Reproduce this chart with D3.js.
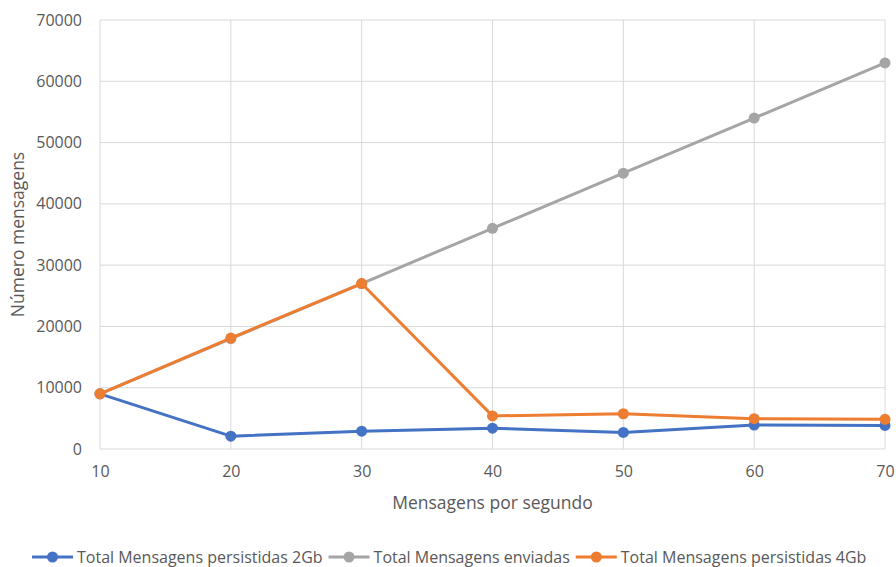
<!DOCTYPE html>
<html>
<head>
<meta charset="utf-8">
<script src="https://cdn.jsdelivr.net/npm/d3@7"></script>
<style>
  body { margin: 0; background: #fff; }
  svg text { font-family: "Open Sans", sans-serif; fill: #595959; }
</style>
</head>
<body>
<svg id="chart"></svg>
<script>
// data
var rates = [10, 20, 30, 40, 50, 60, 70];
var persist2Gb = [9000, 2100, 2900, 3400, 2700, 3900, 3850];
var sent = [9000, 18000, 27000, 36000, 45000, 54000, 63000];
var persist4Gb = [9000, 18100, 27000, 5400, 5750, 4950, 4850];
var yTicks = [0, 10000, 20000, 30000, 40000, 50000, 60000, 70000];

var seriesNames = ["Total Mensagens persistidas 2Gb", "Total Mensagens enviadas", "Total Mensagens persistidas 4Gb"];
var seriesColors = ["#4472C4", "#A5A5A5", "#ED7D31"];
var seriesValues = [persist2Gb, sent, persist4Gb];

var width = 896, height = 567;
var plotLeft = 100, plotRight = 885, plotTop = 20, plotBottom = 449;

var svg = d3.select("#chart")
  .attr("width", width)
  .attr("height", height);

var x = d3.scaleLinear().domain([10, 70]).range([plotLeft, plotRight]);
var y = d3.scaleLinear().domain([0, 70000]).range([plotBottom, plotTop]);

// grid lines
svg.append("g")
  .selectAll("line")
  .data(yTicks)
  .enter().append("line")
  .attr("x1", plotLeft).attr("x2", plotRight)
  .attr("y1", function(d){ return y(d); })
  .attr("y2", function(d){ return y(d); })
  .attr("stroke", "#d9d9d9")
  .attr("stroke-width", 1);

svg.append("g")
  .selectAll("line")
  .data(rates)
  .enter().append("line")
  .attr("y1", plotTop).attr("y2", plotBottom)
  .attr("x1", function(d){ return x(d); })
  .attr("x2", function(d){ return x(d); })
  .attr("stroke", "#d9d9d9")
  .attr("stroke-width", 1);

// axes (labels only)
var yAxis = svg.append("g")
  .attr("transform", "translate(" + (plotLeft - 18) + ",0)")
  .call(d3.axisLeft(y).tickValues(yTicks).tickSize(0).tickFormat(d3.format("d")));
var xAxis = svg.append("g")
  .attr("transform", "translate(0," + (plotBottom + 14) + ")")
  .call(d3.axisBottom(x).tickValues(rates).tickSize(0).tickFormat(d3.format("d")));
[yAxis, xAxis].forEach(function(a){
  a.select(".domain").remove();
  a.selectAll("text")
    .style("font-size", "16px")
    .style("font-family", "'Open Sans', sans-serif")
    .attr("fill", "#595959");
});
yAxis.selectAll("text").attr("x", 0);

// axis titles
svg.append("text")
  .attr("x", (plotLeft + plotRight) / 2)
  .attr("y", 509)
  .attr("text-anchor", "middle")
  .style("font-size", "17.5px")
  .text("Mensagens por segundo");

svg.append("text")
  .attr("transform", "translate(24," + ((plotTop + plotBottom) / 2) + ") rotate(-90)")
  .attr("text-anchor", "middle")
  .style("font-size", "17.5px")
  .text("Número mensagens");

// lines and markers
var line = d3.line()
  .x(function(d, i){ return x(rates[i]); })
  .y(function(d){ return y(d); });

seriesValues.forEach(function(vals, k){
  var g = svg.append("g");
  g.append("path")
    .datum(vals)
    .attr("fill", "none")
    .attr("stroke", seriesColors[k])
    .attr("stroke-width", 3)
    .attr("stroke-linejoin", "round")
    .attr("d", line);
  g.selectAll("circle")
    .data(vals)
    .enter().append("circle")
    .attr("cx", function(d, i){ return x(rates[i]); })
    .attr("cy", function(d){ return y(d); })
    .attr("r", 5.5)
    .attr("fill", seriesColors[k]);
});

// legend
var legend = svg.append("g");
var lx = 32, ly = 557;
seriesNames.forEach(function(name, k){
  var item = legend.append("g");
  item.append("line")
    .attr("x1", lx).attr("x2", lx + 41)
    .attr("y1", ly).attr("y2", ly)
    .attr("stroke", seriesColors[k])
    .attr("stroke-width", 3);
  item.append("circle")
    .attr("cx", lx + 20.5).attr("cy", ly)
    .attr("r", 5.5)
    .attr("fill", seriesColors[k]);
  var t = item.append("text")
    .attr("x", lx + 45)
    .attr("y", ly + 5.5)
    .style("font-size", "16px")
    .text(name);
  lx = lx + 45 + t.node().getComputedTextLength() + 6;
});
</script>
</body>
</html>
